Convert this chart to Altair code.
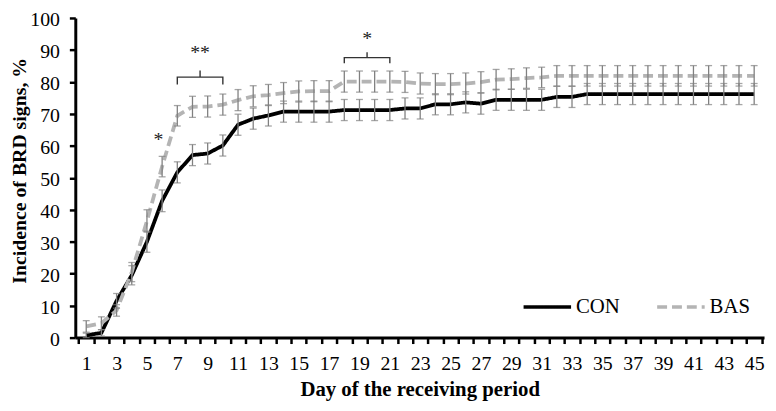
import altair as alt
import pandas as pd

days = list(range(1, 46))
con = [0.7, 1.5, 11.5, 19.5, 30.0, 42.8, 51.7, 57.1, 57.6, 60.1,
       66.6, 68.5, 69.5, 70.7, 70.7, 70.7, 70.7, 71.2, 71.2, 71.2,
       71.2, 71.7, 71.7, 73.0, 73.0, 73.6, 73.2, 74.4, 74.4, 74.4,
       74.4, 75.3, 75.3, 76.2, 76.2, 76.2, 76.2, 76.2, 76.2, 76.2,
       76.2, 76.2, 76.2, 76.2, 76.2]
bas = [3.5, 4.5, 8.5, 20.5, 36.5, 53.5, 69.4, 72.2, 72.3, 72.9,
       74.3, 75.5, 75.9, 76.5, 77.0, 77.1, 77.1, 80.1, 80.1, 80.1,
       80.1, 80.0, 79.5, 79.3, 79.3, 79.5, 79.9, 80.7, 80.9, 81.2,
       81.4, 81.9, 81.9, 81.9, 81.9, 81.9, 81.9, 81.9, 81.9, 81.9,
       81.9, 81.9, 81.9, 81.9, 81.9]
con_se = [0.7, 1.0, 2.3, 3.0, 3.3, 3.4, 3.3, 3.3, 3.3, 3.3,
          3.3, 3.3, 3.3, 3.3, 3.3, 3.3, 3.3, 3.3, 3.3, 3.3,
          3.3, 3.3, 3.3, 3.3, 3.3, 3.3, 3.3, 3.3, 3.3, 3.3,
          3.3, 3.3, 3.3, 3.3, 3.3, 3.3, 3.3, 3.3, 3.3, 3.3,
          3.3, 3.3, 3.3, 3.3, 3.3]
bas_se = [1.8, 2.0, 1.8, 3.0, 3.5, 3.2, 3.2, 3.3, 3.3, 3.3,
          3.3, 3.3, 3.3, 3.3, 3.3, 3.3, 3.3, 3.3, 3.3, 3.3,
          3.3, 3.3, 3.3, 3.3, 3.3, 3.3, 3.3, 3.2, 3.2, 3.2,
          3.2, 3.2, 3.2, 3.2, 3.2, 3.2, 3.2, 3.2, 3.2, 3.2,
          3.2, 3.2, 3.2, 3.2, 3.2]
groups = ["CON", "BAS"]

# significance annotations
star_day = [5.75, 8.5, 19.5]
star_val = [60.0, 87.1, 91.4]
star_txt = ["*", "**", "*"]
brace_id = ["a"] * 7 + ["b"] * 7
brace_day = [7, 7, 8.5, 8.5, 8.5, 10, 10, 18, 18, 19.5, 19.5, 19.5, 21, 21]
brace_val = [79.2, 81.5, 81.5, 83.6, 81.5, 81.5, 79.2,
             85.8, 87.6, 87.6, 89.3, 87.6, 87.6, 85.8]

# axis ticks sit between days; labels on odd days
tick_days = [i + 0.5 for i in range(0, 46)]
y_ticks = list(range(0, 101, 10))

rows = []
for d, c, b, cs, bs in zip(days, con, bas, con_se, bas_se):
    rows.append({"day": d, "group": "CON", "val": c, "lo": c - cs, "hi": c + cs})
    rows.append({"day": d, "group": "BAS", "val": b, "lo": b - bs, "hi": b + bs})
df = pd.DataFrame(rows)

stars = pd.DataFrame({"day": star_day, "val": star_val, "txt": star_txt})
braces = pd.DataFrame({"id": brace_id, "day": brace_day, "val": brace_val,
                       "ord": list(range(len(brace_day)))})

FONT = "Liberation Serif"
W, H = 696, 323
XMIN, XMAX = 0.28, 45.65
half_px = W / (XMAX - XMIN) / 2

xscale = alt.Scale(domain=[XMIN, XMAX], nice=False, zero=False)
yscale = alt.Scale(domain=[0, 100], nice=False)

xaxis = alt.Axis(
    values=tick_days,
    labelExpr="((datum.value + 0.5) % 2 == 1) ? toString(datum.value + 0.5) : ''",
    labelOffset=half_px,
    title="Day of the receiving period",
    grid=False, domainWidth=3, domainColor="black", tickColor="black",
    tickWidth=2.5, tickSize=6, labelFont=FONT, labelFontSize=20, labelColor="black",
    labelPadding=10, labelOverlap=False, labelFlush=False, labelBound=False,
    titleFont=FONT, titleFontSize=21, titleFontWeight="bold", titleColor="black",
    titleY=53, titleBaseline="middle",
)
yaxis = alt.Axis(
    values=y_ticks,
    title="Incidence of BRD signs, %",
    grid=False, domainWidth=3, domainColor="black", tickColor="black",
    tickWidth=2.5, tickSize=6, labelFont=FONT, labelFontSize=20, labelColor="black",
    labelPadding=10, labelOffset=2, labelOverlap=False, labelFlush=False, labelBound=False,
    titleFont=FONT, titleFontSize=20, titleFontWeight="bold", titleColor="black",
    titleX=-56, titleY=154, titleAngle=270, titleAlign="center", titleBaseline="middle",
)


def X(field):
    return alt.X(field, scale=xscale, axis=xaxis)


def Y(field):
    return alt.Y(field, scale=yscale, axis=yaxis)


base = alt.Chart(df)

lines = base.mark_line(strokeWidth=3.8).encode(
    x=X("day:Q"),
    y=Y("val:Q"),
    color=alt.Color("group:N", scale=alt.Scale(domain=groups, range=["black", "#b4b4b4"]),
                    legend=alt.Legend(
                        title=None, orient="none", legendX=451, legendY=266,
                        direction="horizontal", symbolType="stroke", symbolSize=2304,
                        symbolStrokeWidth=3.5, labelFont=FONT, labelFontSize=21,
                        labelColor="black", labelOffset=3, columnPadding=30)),
    strokeDash=alt.StrokeDash("group:N", scale=alt.Scale(domain=groups, range=[[1, 0], [10, 5]]),
                              legend=None),
    order=alt.Order("day:Q"),
)

err = base.mark_rule(color="#808080", strokeWidth=1.3).encode(
    x=X("day:Q"), y=Y("lo:Q"), y2="hi:Q")
cap_lo = base.mark_tick(color="#808080", thickness=1.3, size=7, orient="horizontal").encode(
    x=X("day:Q"), y=Y("lo:Q"))
cap_hi = base.mark_tick(color="#808080", thickness=1.3, size=7, orient="horizontal").encode(
    x=X("day:Q"), y=Y("hi:Q"))

star_layer = alt.Chart(stars).mark_text(font=FONT, fontSize=20, baseline="alphabetic",
                                        color="#222").encode(
    x=X("day:Q"), y=Y("val:Q"), text="txt:N")
brace_layer = alt.Chart(braces).mark_line(color="#333", strokeWidth=1.4).encode(
    x=X("day:Q"), y=Y("val:Q"), detail="id:N", order="ord:Q")

chart = alt.layer(lines, err, cap_lo, cap_hi, brace_layer, star_layer).properties(
    width=W, height=H,
    autosize=alt.AutoSizeParams(type="none"),
    padding={"left": 68, "top": 8, "right": 4, "bottom": 64},
    background="white",
).configure_view(strokeWidth=0).configure_axis(labelOverlap=False)

chart.save("out.html", embed_options={"renderer": "svg", "actions": False})
